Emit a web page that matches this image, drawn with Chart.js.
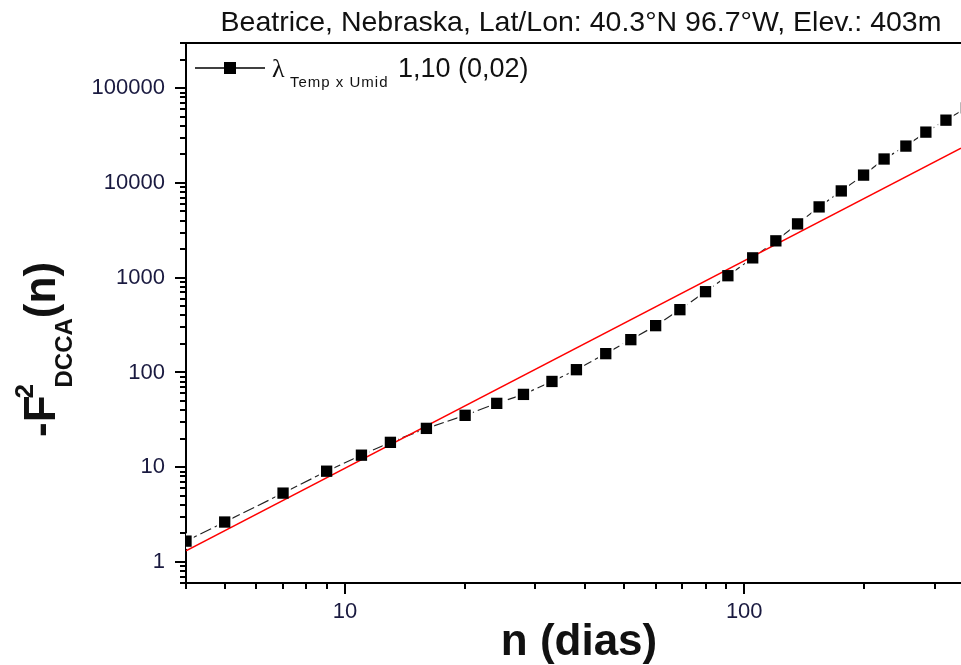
<!DOCTYPE html>
<html>
<head>
<meta charset="utf-8">
<script src="https://cdn.jsdelivr.net/npm/chart.js@4.4.0/dist/chart.umd.min.js"></script>
<style>
body { margin: 0; background: #fff; }
canvas { display: block; }
</style>
</head>
<body>
<canvas id="dcca" width="961" height="665"></canvas>
<script>
// window sizes n (days) and DCCA fluctuation F^2(n)
var nDias = [4, 5, 7, 9, 11, 13, 16, 20, 24, 28, 33, 38, 45, 52, 60, 69, 80, 91, 105, 120, 136, 154, 175, 199, 224, 254, 285, 320, 360];
var f2Dcca = [1.66, 2.64, 5.33, 9.08, 13.4, 18.3, 25.7, 35.3, 47.2, 58.7, 80.4, 107, 158, 222, 312, 460, 712, 1050, 1620, 2450, 3700, 5590, 8240, 12100, 17900, 24500, 34400, 46000, 62000];

// power-law fit (straight on log-log), end points
var fitN = [4, 349];
var fitF2 = [1.31, 23300];

var xTickLabels = ['10', '100'];
var yTickLabels = ['1', '10', '100', '1000', '10000', '100000'];

var titleText = 'Beatrice, Nebraska, Lat/Lon: 40.3\u00b0N 96.7\u00b0W, Elev.: 403m';
var seriesSymbol = '\u03bb';
var seriesSub = 'Temp x Umid';
var seriesValue = '1,10 (0,02)';

var FONT = "'Liberation Sans', Arial, sans-serif";
var LABEL_COLOR = '#1a1a40';

function pts(xs, ys) {
  return xs.map(function (x, i) { return { x: x, y: ys[i] }; });
}

function isDecade(v) {
  var l = Math.log10(v);
  return Math.abs(l - Math.round(l)) < 1e-9;
}

// 1..9 x 10^k between min and max
function logTicks(scale) {
  var out = [];
  var k0 = Math.floor(Math.log10(scale.min)), k1 = Math.ceil(Math.log10(scale.max));
  for (var k = k0; k <= k1; k++) {
    for (var m = 1; m <= 9; m++) {
      var v = m * Math.pow(10, k);
      if (v >= scale.min * 0.9999 && v <= scale.max * 1.0001) out.push({ value: v });
    }
  }
  scale.ticks = out;
}

var decorations = {
  id: 'decorations',
  afterDraw: function (chart) {
    var ctx = chart.ctx, a = chart.chartArea;
    ctx.save();
    ctx.strokeStyle = '#000';
    ctx.lineWidth = 2;

    // top frame line
    ctx.beginPath();
    ctx.moveTo(a.left - 1, a.top);
    ctx.lineTo(a.right, a.top);
    ctx.stroke();

    // outward ticks, long at decades
    ['x', 'y'].forEach(function (id) {
      var s = chart.scales[id];
      s.ticks.forEach(function (t) {
        var len = isDecade(t.value) ? 11 : 6;
        var p = Math.round(s.getPixelForValue(t.value));
        ctx.beginPath();
        if (id === 'x') {
          ctx.moveTo(p, a.bottom);
          ctx.lineTo(p, a.bottom + len);
        } else {
          ctx.moveTo(a.left, p);
          ctx.lineTo(a.left - len, p);
        }
        ctx.stroke();
      });
    });

    ctx.fillStyle = '#111';
    ctx.textBaseline = 'alphabetic';

    // title
    ctx.textAlign = 'center';
    ctx.font = '28.5px ' + FONT;
    ctx.fillText(titleText, 581, 31);

    // x axis title
    ctx.font = 'bold 44px ' + FONT;
    ctx.fillText('n (dias)', 579, 655);

    // y axis title: -F^2_DCCA(n), rotated
    ctx.save();
    ctx.translate(55, 437);
    ctx.rotate(-Math.PI / 2);
    ctx.textAlign = 'left';
    ctx.font = 'bold 44px ' + FONT;
    var w1 = ctx.measureText('-F').width;
    ctx.fillText('-F', 0, 0);
    ctx.font = 'bold 26px ' + FONT;
    ctx.fillText('2', w1 - 3, -22);
    ctx.font = 'bold 24px ' + FONT;
    var sx = w1 + 8;
    ctx.fillText('DCCA', sx, 17);
    sx += ctx.measureText('DCCA').width;
    ctx.font = 'bold 44px ' + FONT;
    ctx.fillText('(n)', sx, 0);
    ctx.restore();

    // legend
    ctx.lineWidth = 1.5;
    ctx.beginPath();
    ctx.moveTo(195, 68);
    ctx.lineTo(265, 68);
    ctx.stroke();
    ctx.fillStyle = '#000';
    ctx.fillRect(224, 62, 12, 12);
    ctx.fillStyle = '#111';
    ctx.textAlign = 'left';
    ctx.font = "26px 'Liberation Serif', serif";
    ctx.fillText(seriesSymbol, 272, 77);
    ctx.font = '15px ' + FONT;
    ctx.letterSpacing = '1px';
    ctx.fillText(seriesSub, 290, 87);
    ctx.letterSpacing = '0px';
    ctx.font = '27px ' + FONT;
    ctx.fillText(seriesValue, 398, 77);

    ctx.restore();
  }
};

function axisTicks(labels) {
  return {
    autoSkip: false,
    maxRotation: 0,
    color: LABEL_COLOR,
    font: { size: 22, family: FONT },
    callback: function (v) {
      var s = String(v);
      return labels.indexOf(s) >= 0 ? s : '';
    }
  };
}

var grid = { display: true, drawOnChartArea: false, drawTicks: true, tickLength: 11, tickColor: 'rgba(0,0,0,0)' };
var border = { display: true, color: '#000', width: 2 };

new Chart(document.getElementById('dcca').getContext('2d'), {
  type: 'line',
  data: {
    datasets: [
      {
        // square markers
        data: pts(nDias, f2Dcca),
        showLine: false,
        pointStyle: 'rect',
        pointRadius: 8,
        pointBackgroundColor: '#000',
        pointBorderWidth: 0,
        clip: 0
      },
      {
        // fitted power law
        data: pts(fitN, fitF2),
        borderColor: '#ff0000',
        borderWidth: 1.4,
        pointRadius: 0,
        fill: false,
        clip: 0
      },
      {
        // white halo leaves a gap between line and markers
        data: pts(nDias, f2Dcca),
        showLine: false,
        pointStyle: 'rect',
        pointRadius: 11,
        pointBackgroundColor: '#fff',
        pointBorderWidth: 0,
        clip: 0
      },
      {
        // dashed connecting line
        data: pts(nDias, f2Dcca),
        borderColor: '#222',
        borderWidth: 1.2,
        borderDash: [12, 4],
        pointRadius: 0,
        fill: false,
        clip: 0
      }
    ]
  },
  options: {
    responsive: false,
    animation: false,
    layout: { autoPadding: false, padding: { top: 43, left: 0, right: 0, bottom: 0 } },
    plugins: { legend: { display: false }, tooltip: { enabled: false }, title: { display: false } },
    scales: {
      x: {
        type: 'logarithmic',
        min: 4,
        max: 349,
        afterBuildTicks: logTicks,
        afterFit: function (s) { s.height = 82; },
        ticks: Object.assign(axisTicks(xTickLabels), { padding: 5 }),
        grid: grid,
        border: border
      },
      y: {
        type: 'logarithmic',
        min: 0.6,
        max: 300000,
        afterBuildTicks: logTicks,
        afterFit: function (s) { s.width = 186; },
        ticks: Object.assign(axisTicks(yTickLabels), { padding: 10 }),
        grid: grid,
        border: border
      }
    }
  },
  plugins: [decorations]
});
</script>
</body>
</html>
